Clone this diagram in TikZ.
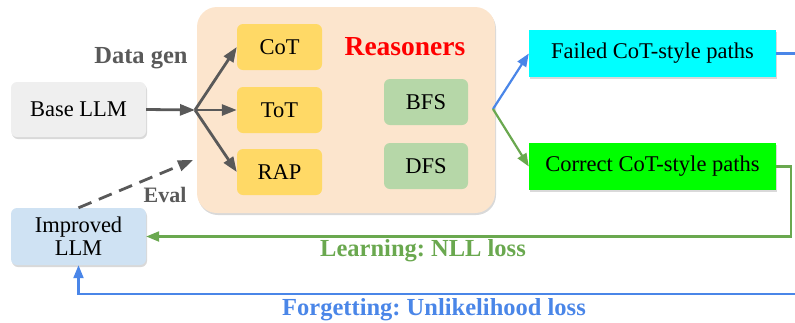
\documentclass[tikz,border=0pt]{standalone}
\usepackage{fontspec}
\setmainfont{Liberation Serif}
\usetikzlibrary{arrows.meta,shadows}
\frenchspacing

\definecolor{basegray}{HTML}{EFEFEF}
\definecolor{impblue}{HTML}{CFE2F3}
\definecolor{reaspeach}{HTML}{FCE5CD}
\definecolor{algyellow}{HTML}{FFD966}
\definecolor{srchgreen}{HTML}{B6D7A8}
\definecolor{failcyan}{HTML}{00FFFF}
\definecolor{okgreen}{HTML}{00FF00}
\definecolor{arrgray}{HTML}{595959}
\definecolor{lossgreen}{HTML}{6AA84F}
\definecolor{lossblue}{HTML}{4A86E8}

\begin{document}
\begin{tikzpicture}[x=1pt,y=-1pt,
shade/.style={drop shadow={shadow xshift=1pt,shadow yshift=-2pt,opacity=0.3}},
box/.style={rounded corners=6pt,font=\fontsize{22.5}{25}\selectfont,align=center,inner sep=0pt},
alg/.style={box,fill=algyellow,minimum width=85pt,minimum height=46pt},
srch/.style={box,fill=srchgreen,minimum width=84pt,minimum height=46pt},
pathbox/.style={box,rounded corners=0pt,shade,minimum width=247pt,minimum height=47pt},
garrow/.style={draw=arrgray,line width=2.8pt,-{Triangle[length=15pt,width=11pt]}},
barrow/.style={line width=2.2pt,-{Triangle[length=13pt,width=10pt]}},
tag/.style={font=\fontsize{22}{24}\selectfont\bfseries},
bigtag/.style={font=\fontsize{24.5}{26}\selectfont\bfseries}
]
\useasboundingbox (0,0) rectangle (795,322);

% reasoners container
\node[box,rounded corners=20pt,fill=reaspeach,shade,minimum width=298pt,minimum height=206pt] (reasoners) at (346,110) {};
\node[text=red,font=\fontsize{27.5}{30}\selectfont\bfseries] (rlabel) at (405,47) {Reasoners};

\node[alg] (cot) at (279.5,47) {CoT};
\node[alg] (tot) at (279.5,110) {ToT};
\node[alg] (rap) at (279.5,172) {RAP};
\node[srch] (bfs) at (426,102) {BFS};
\node[srch] (dfs) at (426,166) {DFS};

% models
\node[box,fill=basegray,shade,minimum width=135pt,minimum height=55pt] (base) at (78.5,109.5) {Base LLM};
\node[box,fill=impblue,shade,minimum width=135pt,minimum height=57pt] (improved) at (78.5,236.5) {Improved\\[-2pt]LLM};

% outputs
\node[pathbox,fill=failcyan] (failed) at (652.5,53.5) {Failed CoT-style paths};
\node[pathbox,fill=okgreen] (correct) at (652.5,166.5) {Correct CoT-style paths};

\coordinate (fan) at (195,110);
\coordinate (split) at (493,109);
\coordinate (evalend) at (193,160);
\coordinate (lturn) at (791,166.5);
\coordinate (fturn) at (810,53.5);
\coordinate (fcorner) at (78.5,294);

% data generation
\draw[garrow] (base.east) -- (fan);
\draw[garrow] (fan) -- (cot.west);
\draw[garrow] (fan) -- (tot.west);
\draw[garrow] (fan) -- (rap.west);
\draw[garrow,dash pattern=on 14pt off 8pt] (improved.north) -- (evalend);
\node[bigtag,text=arrgray] (datagen) at (141,58) {Data gen};
\node[tag,text=arrgray] (eval) at (165,195) {Eval};

% search results
\draw[barrow,draw=lossblue] (split) -- (failed.west);
\draw[barrow,draw=lossgreen] (split) -- (correct.west);

% training signals
\draw[barrow,draw=lossgreen] (correct.east) -- (lturn) |- (improved.east);
\draw[barrow,draw=lossblue] (failed.east) -- (fturn) |- (fcorner) -- (improved.south);
\node[bigtag,text=lossgreen] (learn) at (423,251) {Learning: NLL loss};
\node[bigtag,text=lossblue] (forget) at (434,310) {Forgetting: Unlikelihood loss};
\end{tikzpicture}
\end{document}
